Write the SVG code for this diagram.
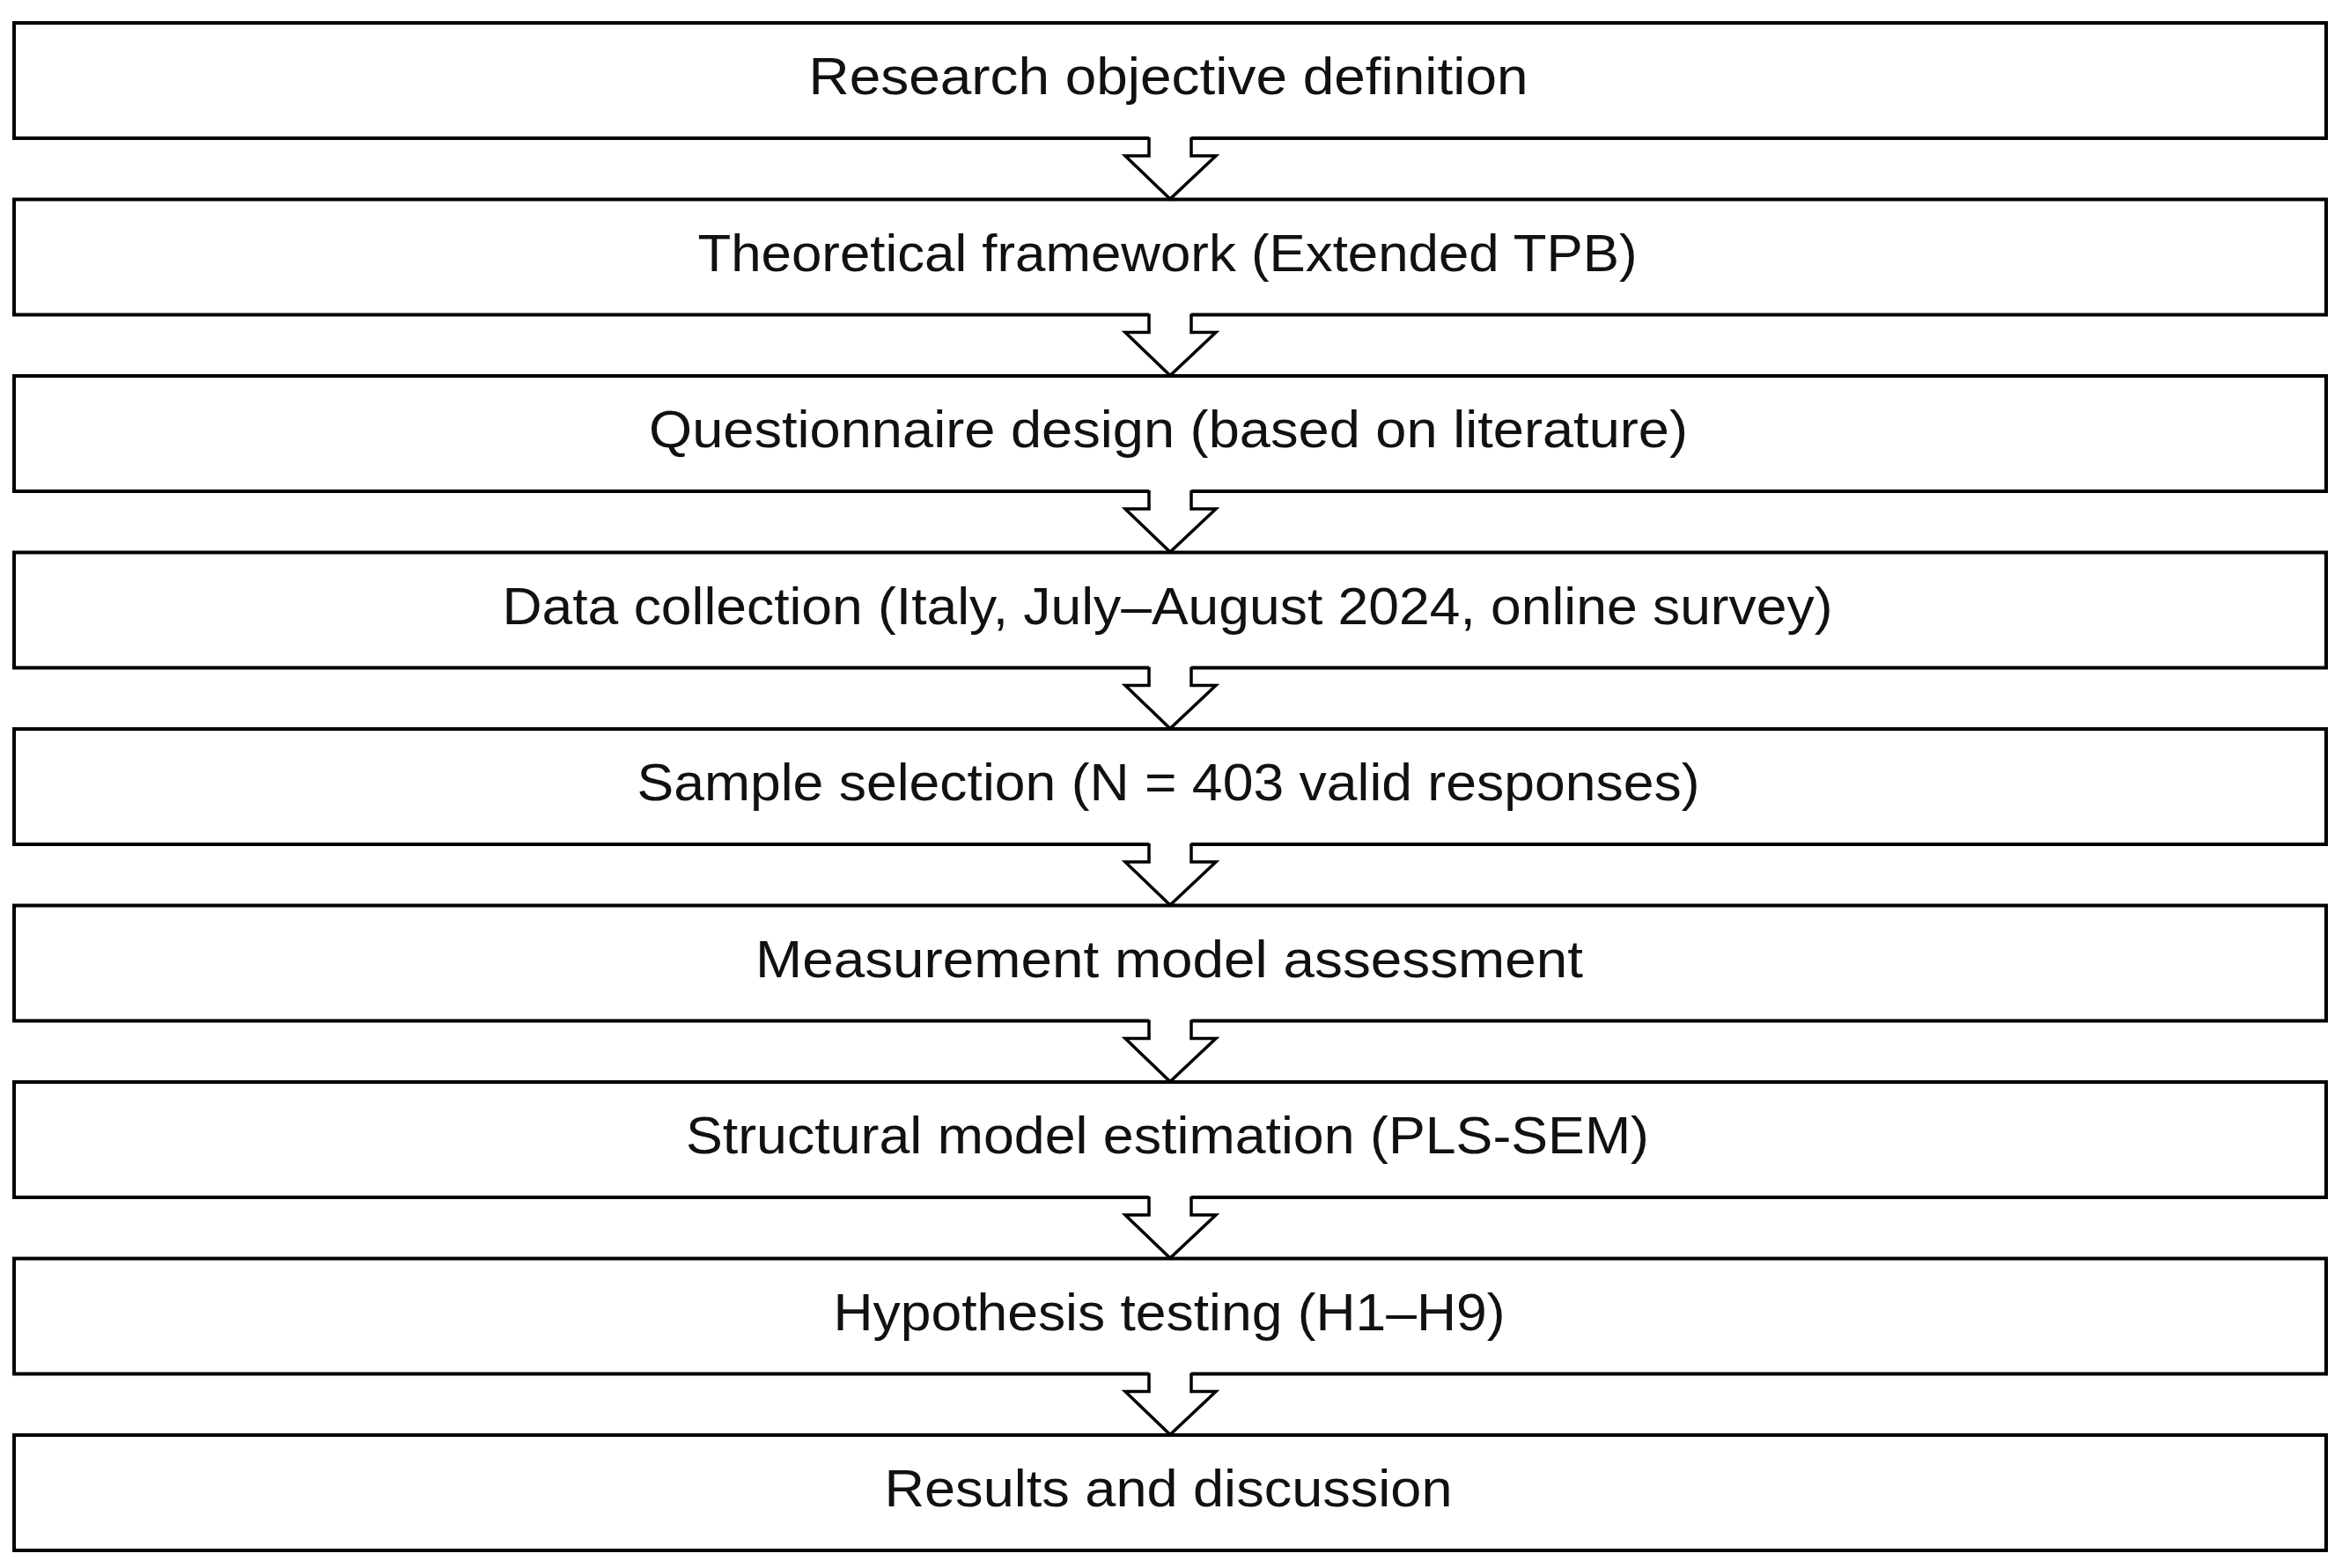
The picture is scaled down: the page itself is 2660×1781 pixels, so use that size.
<svg xmlns="http://www.w3.org/2000/svg" xmlns:xlink="http://www.w3.org/1999/xlink" width="2660" height="1781" viewBox="0 0 2660 1781">
<style>
.box{fill:#ffffff;stroke:#000000;stroke-width:4}
.lbl{font-family:"Liberation Sans","Arial",sans-serif;font-size:60px;fill:#111111;text-anchor:middle}
.afill{fill:#ffffff;stroke:none}
.aline{fill:none;stroke:#000000;stroke-width:3.5;stroke-linejoin:miter}
</style>
<defs>
<g id="arrow">
<polygon class="afill" points="1305,150 1353,150 1353,177 1381,177 1329,225 1278,177 1305,177"/>
<polyline class="aline" points="1305,156 1305,177 1278,177 1329,226 1381,177 1353,177 1353,156"/>
</g>
</defs>
<rect x="0" y="0" width="2660" height="1781" fill="#ffffff"/>
<g id="node1"><rect class="box" x="16" y="26" width="2626" height="131"/><text class="lbl" x="1327" y="107" textLength="817" lengthAdjust="spacingAndGlyphs">Research objective definition</text></g>
<g id="node2"><rect class="box" x="16" y="226.5" width="2626" height="131"/><text class="lbl" x="1326" y="307.5" textLength="1067" lengthAdjust="spacingAndGlyphs">Theoretical framework (Extended TPB)</text></g>
<g id="node3"><rect class="box" x="16" y="427" width="2626" height="131"/><text class="lbl" x="1327" y="508" textLength="1180" lengthAdjust="spacingAndGlyphs">Questionnaire design (based on literature)</text></g>
<g id="node4"><rect class="box" x="16" y="627.5" width="2626" height="131"/><text class="lbl" x="1326" y="708.5" textLength="1511" lengthAdjust="spacingAndGlyphs">Data collection (Italy, July–August 2024, online survey)</text></g>
<g id="node5"><rect class="box" x="16" y="828" width="2626" height="131"/><text class="lbl" x="1327" y="909" textLength="1207" lengthAdjust="spacingAndGlyphs">Sample selection (N = 403 valid responses)</text></g>
<g id="node6"><rect class="box" x="16" y="1028.5" width="2626" height="131"/><text class="lbl" x="1328" y="1109.5" textLength="940" lengthAdjust="spacingAndGlyphs">Measurement model assessment</text></g>
<g id="node7"><rect class="box" x="16" y="1229" width="2626" height="131"/><text class="lbl" x="1326" y="1310" textLength="1094" lengthAdjust="spacingAndGlyphs">Structural model estimation (PLS-SEM)</text></g>
<g id="node8"><rect class="box" x="16" y="1429.5" width="2626" height="131"/><text class="lbl" x="1328" y="1510.5" textLength="763" lengthAdjust="spacingAndGlyphs">Hypothesis testing (H1–H9)</text></g>
<g id="node9"><rect class="box" x="16" y="1630" width="2626" height="131"/><text class="lbl" x="1327" y="1711" textLength="645" lengthAdjust="spacingAndGlyphs">Results and discussion</text></g>
<g id="connectors">
<use xlink:href="#arrow" transform="translate(0,0)"/>
<use xlink:href="#arrow" transform="translate(0,200.5)"/>
<use xlink:href="#arrow" transform="translate(0,401)"/>
<use xlink:href="#arrow" transform="translate(0,601.5)"/>
<use xlink:href="#arrow" transform="translate(0,802)"/>
<use xlink:href="#arrow" transform="translate(0,1002.5)"/>
<use xlink:href="#arrow" transform="translate(0,1203)"/>
<use xlink:href="#arrow" transform="translate(0,1403.5)"/>
</g>
</svg>
